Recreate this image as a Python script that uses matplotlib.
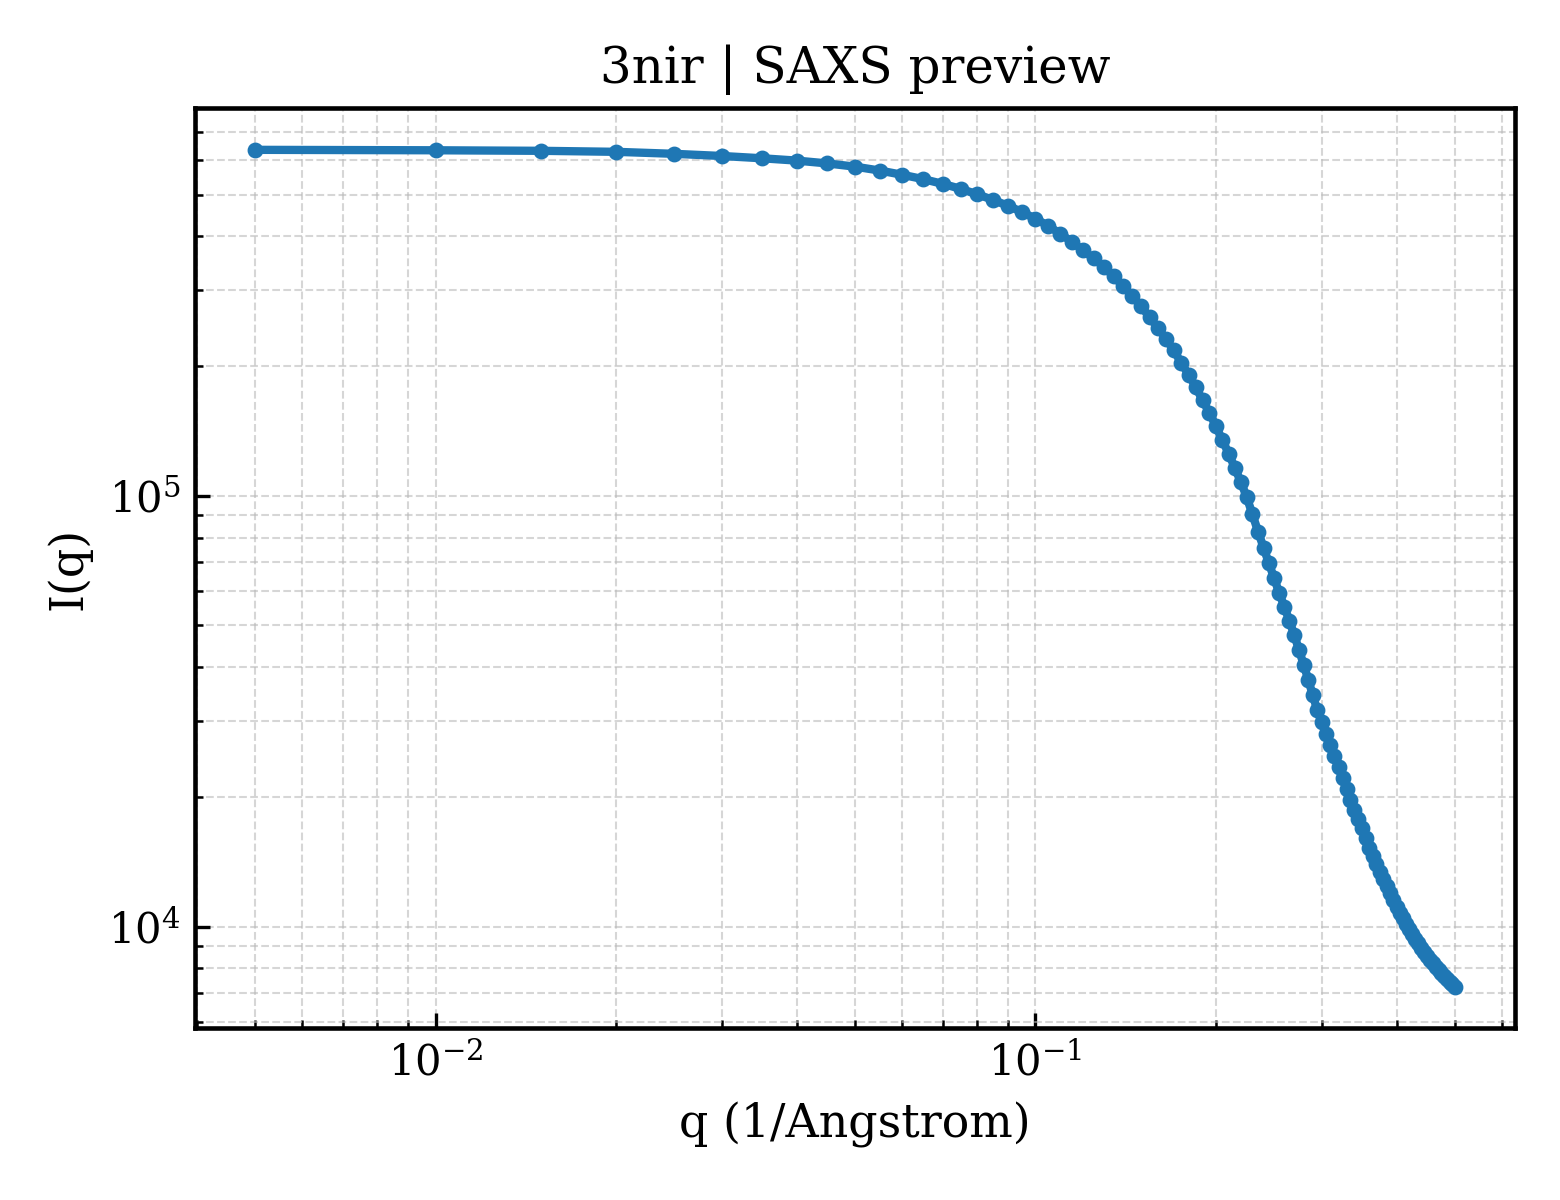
import matplotlib
matplotlib.use("Agg")
import matplotlib.pyplot as plt

q_values = [
    0.005, 0.010, 0.015, 0.020, 0.025, 0.030, 0.035, 0.040, 0.045, 0.050,
    0.055, 0.060, 0.065, 0.070, 0.075, 0.080, 0.085, 0.090, 0.095, 0.100,
    0.105, 0.110, 0.115, 0.120, 0.125, 0.130, 0.135, 0.140, 0.145, 0.150,
    0.155, 0.160, 0.165, 0.170, 0.175, 0.180, 0.185, 0.190, 0.195, 0.200,
    0.205, 0.210, 0.215, 0.220, 0.225, 0.230, 0.235, 0.240, 0.245, 0.250,
    0.255, 0.260, 0.265, 0.270, 0.275, 0.280, 0.285, 0.290, 0.295, 0.300,
    0.305, 0.310, 0.315, 0.320, 0.325, 0.330, 0.335, 0.340, 0.345, 0.350,
    0.355, 0.360, 0.365, 0.370, 0.375, 0.380, 0.385, 0.390, 0.395, 0.400,
    0.405, 0.410, 0.415, 0.420, 0.425, 0.430, 0.435, 0.440, 0.445, 0.450,
    0.455, 0.460, 0.465, 0.470, 0.475, 0.480, 0.485, 0.490, 0.495, 0.500,
]
intensity = [
    635000, 633500, 631700, 628300, 621600, 614500, 607000, 599500, 590500, 580500,
    568500, 555700, 543000, 529600, 515700, 500500, 486000, 470800, 455500, 439300,
    423200, 405400, 388500, 371200, 355600, 339900, 323100, 306300, 290600, 275000,
    259800, 244900, 231400, 217400, 203500, 190900, 178800, 166400, 155800, 144800,
    134400, 125200, 116000, 107600, 99300, 90500, 82600, 75800, 69700, 64300,
    59400, 55200, 51300, 47500, 43900, 40500, 37400, 34400, 31800, 29800,
    28000, 26400, 24900, 23500, 22100, 20900, 19700, 18700, 17800, 16900,
    16050, 15250, 14560, 13950, 13410, 12890, 12400, 11950, 11520, 11110,
    10780, 10450, 10140, 9860, 9600, 9360, 9140, 8930, 8730, 8550,
    8380, 8220, 8070, 7930, 7800, 7670, 7560, 7450, 7350, 7260,
]

plt.rcParams["font.family"] = "DejaVu Serif"
plt.rcParams["mathtext.fontset"] = "dejavuserif"
plt.rcParams["font.size"] = 10
plt.rcParams["axes.linewidth"] = 1.1

fig, ax = plt.subplots(figsize=(5.2, 4.0), dpi=300)
fig.subplots_adjust(left=0.125, right=0.971, top=0.91, bottom=0.143)

ax.loglog(q_values, intensity, marker="o", markersize=2.8, linewidth=2.0,
          color="#1f77b4")

ax.set_xlabel("q (1/Angstrom)", fontsize=11)
ax.set_ylabel("I(q)", fontsize=11)
ax.set_title("3nir | SAXS preview", fontsize=12)

ax.grid(True, which="both", linestyle="--", linewidth=0.5, color="#bbbbbb", alpha=0.6)
ax.tick_params(which="both", direction="in")

fig.savefig("out.png", dpi=300)
